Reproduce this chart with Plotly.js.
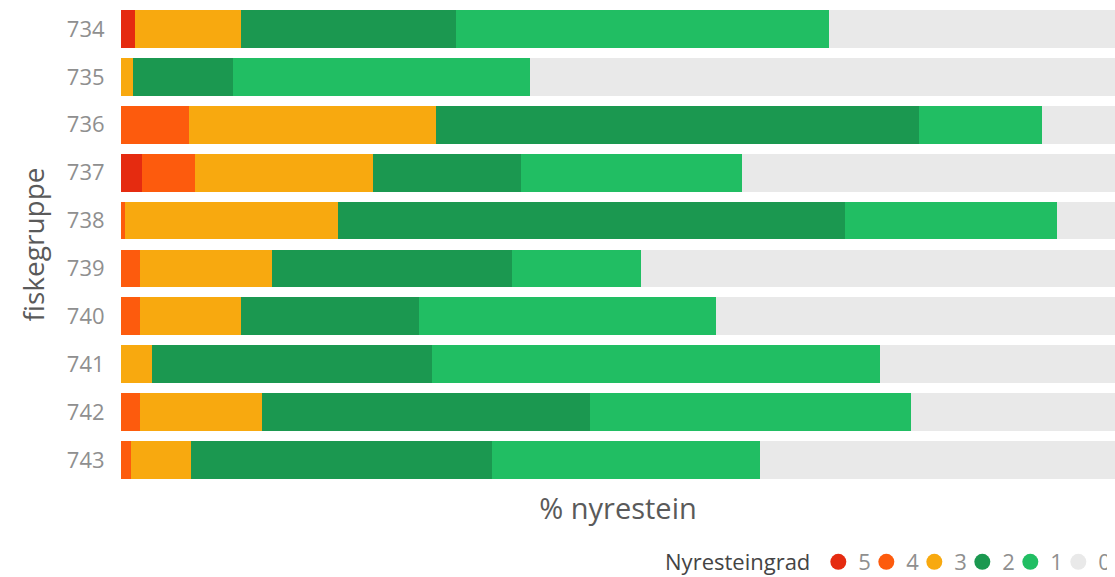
<!DOCTYPE html>
<html>
<head>
<meta charset="utf-8">
<script src="https://cdn.plot.ly/plotly-3.0.1.min.js"></script>
<style>html,body{margin:0;padding:0;background:#fff;}#chart{width:1115px;height:577px;}</style>
</head>
<body>
<div id="chart"></div>
<script>
// Categories (fiskegruppe)
const groups = ["734","735","736","737","738","739","740","741","742","743"];
// Share of fish (%) per kidney-stone grade (Nyresteingrad)
const grade5 = [1.4, 0, 0, 2.1, 0, 0, 0, 0, 0, 0];
const grade4 = [0, 0, 6.8, 5.3, 0.4, 1.9, 1.9, 0, 1.9, 1.0];
const grade3 = [10.7, 1.2, 24.9, 18.0, 21.4, 13.3, 10.2, 3.1, 12.3, 6.0];
const grade2 = [21.6, 10.1, 48.6, 14.8, 51.0, 24.1, 17.9, 28.2, 33.0, 30.3];
const grade1 = [37.5, 29.8, 12.4, 22.3, 21.4, 13.0, 29.9, 45.1, 32.3, 27.0];
const grade0 = [28.8, 59.1, 7.3, 37.5, 5.8, 47.7, 40.2, 23.6, 20.5, 35.7];

const gradeNames = ["5","4","3","2","1","0"];
const gradeValues = [grade5, grade4, grade3, grade2, grade1, grade0];
const gradeColors = ["#E52B10","#FD5B0D","#F8A90F","#1B9850","#21BE63","#E9E9E9"];

const traces = [];
gradeNames.forEach((g, i) => {
  traces.push({
    type: "bar", orientation: "h",
    y: groups, x: gradeValues[i],
    name: g, legendgroup: g, showlegend: false,
    marker: {color: gradeColors[i], line: {width: 0}},
    hoverinfo: "y+x+name"
  });
});
// legend entries with round markers
gradeNames.forEach((g, i) => {
  traces.push({
    type: "scatter", mode: "markers",
    x: [null], y: [null],
    name: g, legendgroup: g, showlegend: true,
    marker: {color: gradeColors[i], size: 17, symbol: "circle"},
    hoverinfo: "skip"
  });
});

const layout = {
  width: 1115, height: 577,
  margin: {l: 121, r: 0, t: 5, b: 93, autoexpand: false},
  paper_bgcolor: "#fff", plot_bgcolor: "#fff",
  barmode: "stack", bargap: 0.21,
  font: {family: "Open Sans, sans-serif", color: "#666"},
  xaxis: {
    range: [0, 100], showgrid: false, zeroline: false, showline: false,
    showticklabels: false, ticks: "", automargin: false,
    title: {text: "% nyrestein", font: {size: 29, color: "#5a5a5a"}, standoff: 14}
  },
  yaxis: {
    type: "category", autorange: "reversed", automargin: false,
    showgrid: false, zeroline: false, showline: false,
    ticks: "outside", ticklen: 11, tickcolor: "rgba(0,0,0,0)",
    tickfont: {size: 22, color: "#8f8f8f"},
    title: {text: "fiskegruppe", font: {size: 28, color: "#5a5a5a"}, standoff: 14}
  },
  legend: {
    orientation: "h", xref: "paper", x: 0.992, xanchor: "right",
    yref: "container", y: 0.026, yanchor: "middle",
    title: {text: "Nyresteingrad", font: {size: 22, color: "#444"}, side: "left"},
    font: {size: 22, color: "#8f8f8f"},
    itemwidth: 30, entrywidth: 3, entrywidthmode: "pixels",
    tracegroupgap: 0, bgcolor: "rgba(0,0,0,0)"
  },
  showlegend: true
};

Plotly.newPlot("chart", traces, layout, {displayModeBar: false, staticPlot: true});
</script>
</body>
</html>
